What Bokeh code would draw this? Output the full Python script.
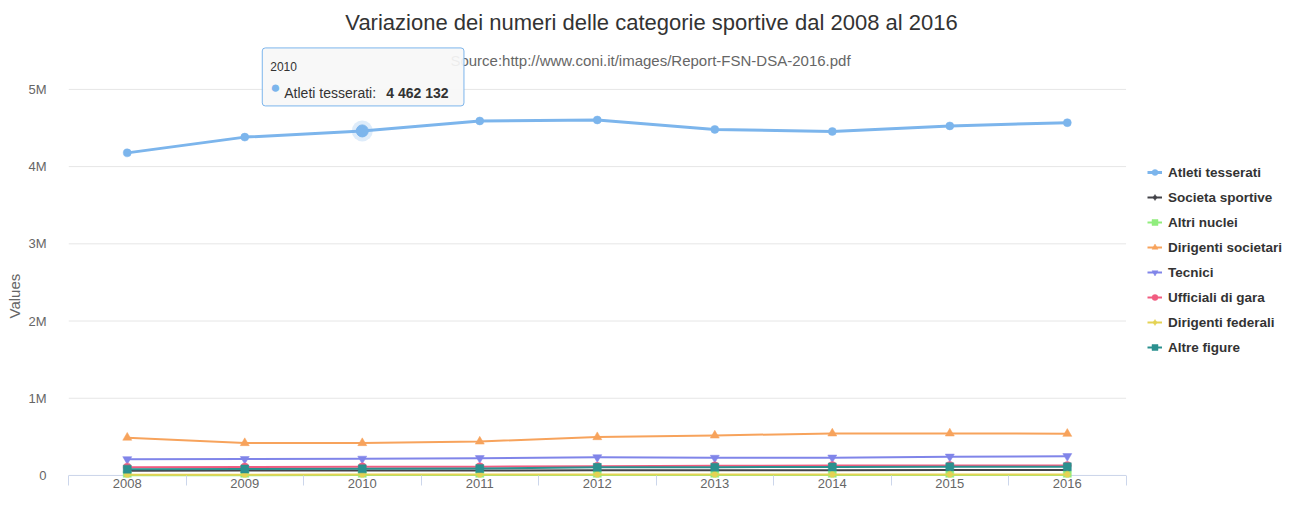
from bokeh.plotting import figure
from bokeh.models import (Range1d, FixedTicker, Legend, LegendItem, Label,
                          Title, ColumnDataSource)
from bokeh.embed import file_html
from bokeh.resources import INLINE

# ---------------- data ----------------
years = [2008, 2009, 2010, 2011, 2012, 2013, 2014, 2015, 2016]

atleti_tesserati = [4178000, 4382000, 4462132, 4591000, 4604000, 4482000, 4455000, 4527000, 4569000]
societa_sportive = [62000, 63000, 64000, 65000, 66000, 68000, 69000, 70000, 70000]
altri_nuclei = [4000, 4000, 4500, 4500, 5000, 5000, 5500, 5500, 5500]
dirigenti_societari = [490000, 420000, 420000, 440000, 497000, 518000, 545000, 545000, 540000]
tecnici = [210000, 212000, 216000, 224000, 235000, 228000, 231000, 243000, 250000]
ufficiali_di_gara = [108000, 110000, 112000, 114000, 118000, 125000, 128000, 130000, 128000]
dirigenti_federali = [10000, 10000, 11000, 11000, 11000, 12000, 12000, 12000, 12000]
altre_figure = [82000, 84000, 86000, 90000, 105000, 108000, 110000, 112000, 112000]

series_names = ["Atleti tesserati", "Societa sportive", "Altri nuclei", "Dirigenti societari",
                "Tecnici", "Ufficiali di gara", "Dirigenti federali", "Altre figure"]
series_values = [atleti_tesserati, societa_sportive, altri_nuclei, dirigenti_societari,
                 tecnici, ufficiali_di_gara, dirigenti_federali, altre_figure]

y_ticks = [0, 1000000, 2000000, 3000000, 4000000, 5000000]
y_tick_labels = ["0", "1M", "2M", "3M", "4M", "5M"]

title_text = "Variazione dei numeri delle categorie sportive dal 2008 al 2016"
subtitle_text = "Source:http://www.coni.it/images/Report-FSN-DSA-2016.pdf"
y_axis_title = "Values"
hover_index = 2  # tooltip shown on 2010

# ---------------- styles / layout ----------------
colors = ["#7cb5ec", "#434348", "#90ed7d", "#f7a35c", "#8085e9", "#f15c80", "#e4d354", "#2b908f"]
markers = ["circle", "diamond", "square", "triangle", "inverted_triangle", "circle", "diamond", "square"]
marker_sizes = [8, 10, 8, 9, 9, 8, 10, 8]
FONT = "Liberation Sans"

W, H = 1285, 490
FRAME_W = 1217.5                   # measured width of the drawing frame
PLOT_W = 1058                      # width of the visible plotting band
PX_PER_YEAR = PLOT_W / len(years)
PX_PER_M = 76.0
FRAME_BOTTOM_PAD = 2
ZERO_FROM_TOP = 467.5

x0 = years[0] - 0.5
x1 = years[-1] + 0.5
p = figure(width=W, height=H,
           x_range=Range1d(x0, x0 + FRAME_W / PX_PER_YEAR),
           y_range=Range1d(-FRAME_BOTTOM_PAD / PX_PER_M * 1e6, ZERO_FROM_TOP / PX_PER_M * 1e6),
           output_backend="svg", toolbar_location=None,
           min_border_left=58, min_border_right=0, min_border_top=0, min_border_bottom=0)
p.outline_line_color = None
p.background_fill_color = "white"

# y axis
p.yaxis.ticker = FixedTicker(ticks=y_ticks)
p.yaxis.major_label_overrides = {float(t): l for t, l in zip(y_ticks, y_tick_labels)}
p.yaxis.axis_line_color = None
p.yaxis.major_tick_line_color = None
p.yaxis.minor_tick_line_color = None
p.yaxis.major_label_text_font = FONT
p.yaxis.major_label_text_font_size = "13px"
p.yaxis.major_label_text_color = "#666666"
p.yaxis.major_label_standoff = 16

p.add_layout(Title(text=y_axis_title, align="left", offset=159, standoff=6,
                   text_font=FONT, text_font_size="15px", text_font_style="normal",
                   text_color="#666666"), "left")

# x axis
p.xaxis.ticker = FixedTicker(ticks=years,
                             minor_ticks=[y - 0.5 for y in years] + [years[-1] + 0.5])
p.xaxis.axis_line_color = None
p.xaxis.major_tick_line_color = None
p.xaxis.major_tick_out = 0
p.xaxis.major_tick_in = 0
p.xaxis.minor_tick_line_color = "#ccd6eb"
p.xaxis.minor_tick_out = 8
p.xaxis.minor_tick_in = 2
p.xaxis.major_label_standoff = -7
p.xaxis.axis_label_standoff = 0
p.xaxis.major_label_text_font = FONT
p.xaxis.major_label_text_font_size = "13px"
p.xaxis.major_label_text_color = "#666666"

# grid lines and axis line limited to the plotting band
p.xgrid.grid_line_color = None
p.ygrid.grid_line_color = None
p.segment(x0=[x0] * len(y_ticks), x1=[x1] * len(y_ticks), y0=y_ticks, y1=y_ticks,
          line_color="#e6e6e6", line_width=1, level="underlay")
p.segment(x0=[x0], x1=[x1], y0=[0], y1=[0], line_color="#ccd6eb", line_width=1,
          level="underlay")

# titles (screen units measured from the frame's bottom-left)
p.add_layout(Label(x=583, y=455, x_units="screen", y_units="screen", text=title_text,
                   text_align="center", text_baseline="alphabetic",
                   text_font=FONT, text_font_size="22px", text_color="#333333"))
p.add_layout(Label(x=582, y=417, x_units="screen", y_units="screen", text=subtitle_text,
                   text_align="center", text_baseline="alphabetic",
                   text_font=FONT, text_font_size="15px", text_color="#666666"))

# series
items = []
for i, (name, vals) in enumerate(zip(series_names, series_values)):
    src = ColumnDataSource(dict(x=years, y=vals))
    lr = p.line("x", "y", source=src, line_color=colors[i],
                line_width=3 if i == 0 else 2, line_join="round")
    sr = p.scatter("x", "y", source=src, marker=markers[i], size=marker_sizes[i],
                   fill_color=colors[i], line_color=colors[i], line_width=0.5)
    items.append(LegendItem(label=name, renderers=[lr, sr]))

# hovered point (halo + bigger marker)
hx, hy = years[hover_index], atleti_tesserati[hover_index]
p.scatter([hx], [hy], size=21, fill_color=colors[0], fill_alpha=0.25, line_color=None)
p.scatter([hx], [hy], size=12, fill_color=colors[0], line_color=colors[0])

legend = Legend(items=items, location=(1079, 120), orientation="vertical",
                glyph_width=15, glyph_height=20, label_height=20, spacing=5,
                padding=0, margin=0, label_standoff=6,
                label_text_font=FONT, label_text_font_size="13.5px",
                label_text_font_style="bold", label_text_color="#333333",
                border_line_color=None, background_fill_alpha=0)
p.add_layout(legend)

# tooltip
tip_box = Label(x=hx, y=hy, x_offset=-100, y_offset=83, text=str(hx),
                text_align="left", text_baseline="top",
                padding=dict(left=8, right=167, top=14, bottom=35),
                background_fill_color="#f7f7f7", background_fill_alpha=0.92,
                border_line_color=colors[0], border_line_width=1, border_radius=3,
                text_font=FONT, text_font_size="12px", text_color="#333333")
p.add_layout(tip_box)
p.add_layout(Label(x=hx, y=hy, x_offset=-87, y_offset=43, text="\u25cf",
                   text_align="center", text_baseline="middle",
                   text_font=FONT, text_font_size="17px", text_color=colors[0]))
p.add_layout(Label(x=hx, y=hy, x_offset=-78, y_offset=38, text=series_names[0] + ":",
                   text_align="left", text_baseline="alphabetic",
                   text_font=FONT, text_font_size="14px", text_color="#333333"))
p.add_layout(Label(x=hx, y=hy, x_offset=24, y_offset=38,
                   text=f"{hy:,}".replace(",", " "),
                   text_align="left", text_baseline="alphabetic", text_font_style="bold",
                   text_font=FONT, text_font_size="14px", text_color="#333333"))

open("out.html", "w").write(file_html(p, INLINE))
